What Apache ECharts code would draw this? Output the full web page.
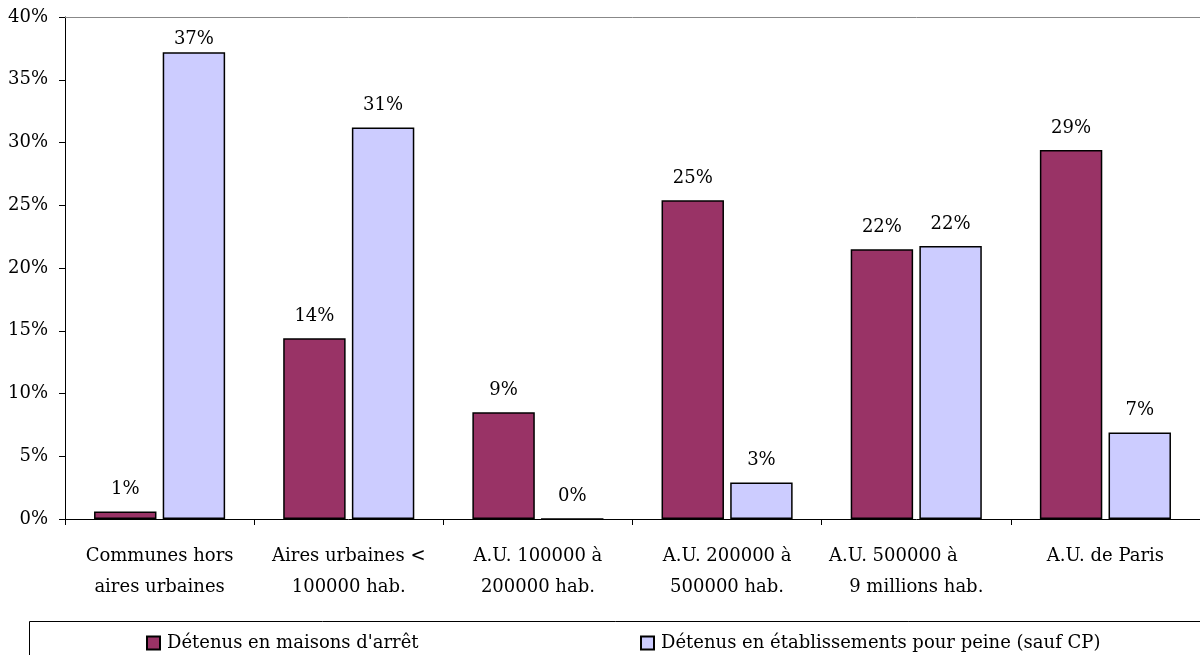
<!DOCTYPE html>
<html><head><meta charset="utf-8">
<script src="https://cdn.jsdelivr.net/npm/echarts@6/dist/echarts.min.js"></script>
<style>html,body{margin:0;padding:0;background:#fff}#c{width:1200px;height:655px}</style>
</head><body><div id="c"></div>
<script>
var categories = ['Communes hors\naires urbaines', 'Aires urbaines <\n100000 hab.', 'A.U. 100000 à\n200000 hab.', 'A.U. 200000 à\n500000 hab.', 'A.U. 500000 à\u00a0\u00a0\u00a0\u00a0\u00a0\u00a0\u00a0\u00a0\n9 millions hab.', 'A.U. de Paris'];
var seriesNames = ["Détenus en maisons d'arrêt", 'Détenus en établissements pour peine (sauf CP)'];
var maisonsArret = [0.6, 14.4, 8.5, 25.4, 21.5, 29.4];
var etablissementsPeine = [37.2, 31.2, 0, 2.9, 21.75, 6.9];
var yTicks = [0, 5, 10, 15, 20, 25, 30, 35, 40];

var FONT = 'DejaVu Serif';
var FS = 18;
var chart = echarts.init(document.getElementById('c'));
function lbl() {
  return {show: true, position: 'top', distance: 13, color: '#000', fontFamily: FONT, fontSize: FS,
    formatter: function (p) { return Math.round(p.value) + '%'; }};
}
function withClamp(arr) {
  return arr.map(function (v) { return v > 35 ? {value: v, label: {distance: 4}} : v; });
}
chart.setOption({
  animation: false,
  textStyle: {fontFamily: FONT},
  grid: {left: 65, right: 0, top: 17, bottom: 136, containLabel: false},
  graphic: [{type: 'rect', shape: {x: 29.5, y: 621.5, width: 1200, height: 60}, style: {fill: 'none', stroke: '#000', lineWidth: 1}}],
  legend: [
    {data: [seriesNames[0]], left: 141, top: 629, itemWidth: 13, itemHeight: 13, icon: 'rect', itemGap: 0,
      textStyle: {fontFamily: FONT, fontSize: FS, color: '#000', padding: [0, 0, 0, 2]}},
    {data: [seriesNames[1]], left: 635, top: 629, itemWidth: 13, itemHeight: 13, icon: 'rect', itemGap: 0,
      textStyle: {fontFamily: FONT, fontSize: FS, color: '#000', padding: [0, 0, 0, 2]}}
  ],
  xAxis: [{
    type: 'category', data: categories,
    axisLine: {lineStyle: {color: '#000', width: 1}},
    axisTick: {show: true, alignWithLabel: false, length: 6, lineStyle: {color: '#000'}},
    axisLabel: {color: '#000', fontFamily: FONT, fontSize: FS, lineHeight: 31, margin: 22, interval: 0}
  }, {
    type: 'category', data: categories, position: 'top',
    axisLine: {lineStyle: {color: '#888', width: 1}}, axisTick: {show: false}, axisLabel: {show: false}
  }],
  yAxis: {
    type: 'value', min: 0, max: 40, interval: 5,
    axisLine: {show: true, lineStyle: {color: '#000'}},
    axisTick: {show: true, length: 6, lineStyle: {color: '#000'}},
    splitLine: {show: false},
    axisLabel: {color: '#000', fontFamily: FONT, fontSize: FS, margin: 17,
      formatter: function (v) { return yTicks.indexOf(v) >= 0 ? v + '%' : ''; }}
  },
  series: [
    {name: seriesNames[0], type: 'bar', data: withClamp(maisonsArret), barWidth: '33%', barGap: '10%',
      itemStyle: {color: '#993366', borderColor: '#000', borderWidth: 1.5}, label: lbl()},
    {name: seriesNames[1], type: 'bar', data: withClamp(etablissementsPeine), barWidth: '33%', barGap: '10%',
      itemStyle: {color: '#CCCCFF', borderColor: '#000', borderWidth: 1.5}, label: lbl()}
  ]
});
</script></body></html>
